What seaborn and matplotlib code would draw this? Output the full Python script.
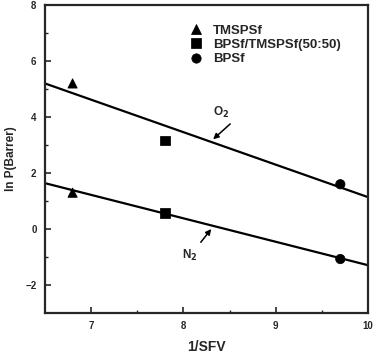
import pandas as pd
import matplotlib.pyplot as plt
import seaborn as sns

# data
polymers = ['TMSPSf', 'BPSf/TMSPSf(50:50)', 'BPSf']
inv_sfv = [6.8, 7.8, 9.7]
ln_p_o2 = [5.2, 3.15, 1.6]
ln_p_n2 = [1.3, 0.57, -1.07]

# regression lines (end points)
fit_x = [6.5, 10.0]
fit_o2 = [5.2, 1.14]
fit_n2 = [1.64, -1.29]

df = pd.DataFrame({
    'polymer': polymers * 2,
    'x': inv_sfv * 2,
    'lnP': ln_p_o2 + ln_p_n2,
    'gas': ['O2'] * 3 + ['N2'] * 3,
})
fit_df = pd.DataFrame({
    'x': fit_x * 2,
    'lnP': fit_o2 + fit_n2,
    'gas': ['O2'] * 2 + ['N2'] * 2,
})

sns.set_style('ticks')
plt.rcParams['font.family'] = ['Liberation Sans', 'DejaVu Sans']
plt.rcParams['font.weight'] = 'bold'

fig = plt.figure(figsize=(3.74, 3.55), dpi=100)
ax = fig.add_axes([0.120, 0.118, 0.864, 0.868])

sns.lineplot(data=fit_df, x='x', y='lnP', units='gas', estimator=None,
             color='black', lw=1.6, ax=ax)
sns.scatterplot(data=df, x='x', y='lnP', style='polymer', style_order=polymers,
                markers={'TMSPSf': '^', 'BPSf/TMSPSf(50:50)': 's', 'BPSf': 'o'},
                color='black', s=45, edgecolor='black', ax=ax)

ax.set_xlim(6.5, 10)
ax.set_ylim(-3, 8)
ax.set_xticks([7, 8, 9, 10])
ax.set_xticks([7.5, 8.5, 9.5], minor=True)
ax.set_yticks([-2, 0, 2, 4, 6, 8])
ax.set_yticks([-1, 1, 3, 5, 7], minor=True)
ax.tick_params(direction='in', labelsize=7, length=4, width=1.2, pad=6)
ax.tick_params(which='minor', direction='in', length=2.5, width=1)
for s in ax.spines.values():
    s.set_linewidth(1.6)

ax.set_xlabel('1/SFV', fontsize=10, fontweight='bold', labelpad=6)
ax.set_ylabel('ln P(Barrer)', fontsize=8.5, fontweight='bold', labelpad=6)

ax.legend(loc='upper left', bbox_to_anchor=(0.405, 0.975), frameon=False,
          fontsize=9.5, handlelength=1.2, handletextpad=0.7,
          labelspacing=0.15, title=None)

ax.text(8.32, 4.15, 'O$_2$', fontsize=8.5, fontweight='bold', va='center')
ax.annotate('', xy=(8.3, 3.14), xytext=(8.53, 3.82),
            arrowprops=dict(arrowstyle='-|>', color='black', lw=1.1,
                            mutation_scale=8))
ax.text(8.07, -0.93, 'N$_2$', fontsize=8.5, fontweight='bold',
        va='center', ha='center')
ax.annotate('', xy=(8.32, 0.08), xytext=(8.17, -0.55),
            arrowprops=dict(arrowstyle='-|>', color='black', lw=1.1,
                            mutation_scale=8))

plt.savefig('out.png', dpi=100)
